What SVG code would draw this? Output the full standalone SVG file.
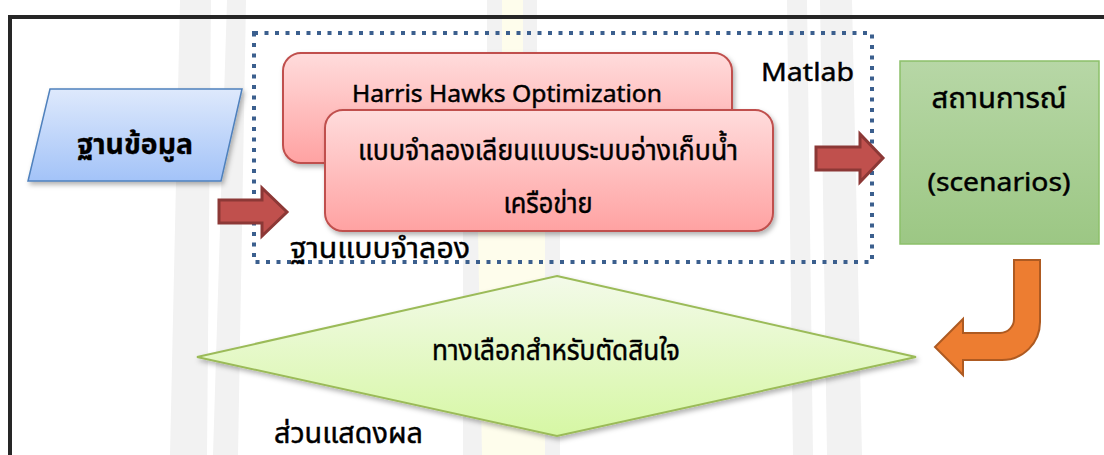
<svg xmlns="http://www.w3.org/2000/svg" width="1104" height="455" viewBox="0 0 1104 455">
<defs>
  <linearGradient id="gBlue" x1="0" y1="0" x2="0" y2="1">
    <stop offset="0" stop-color="#DEE9FC"/>
    <stop offset="1" stop-color="#A3C3F8"/>
  </linearGradient>
  <linearGradient id="gPink" x1="0" y1="0" x2="0" y2="1">
    <stop offset="0" stop-color="#FFDCDC"/>
    <stop offset="1" stop-color="#FFA2A2"/>
  </linearGradient>
  <linearGradient id="gGreen" x1="0" y1="0" x2="0" y2="1">
    <stop offset="0" stop-color="#B7D7A6"/>
    <stop offset="1" stop-color="#9CC784"/>
  </linearGradient>
  <linearGradient id="gLime" x1="0" y1="0" x2="0" y2="1">
    <stop offset="0" stop-color="#F3FAE9"/>
    <stop offset="1" stop-color="#D6F7A4"/>
  </linearGradient>
  <filter id="shadow" x="-10%" y="-10%" width="125%" height="130%">
    <feDropShadow dx="2" dy="3" stdDeviation="2.5" flood-color="#000" flood-opacity="0.3"/>
  </filter>
  <style>
    .t { font-family: "Noto Sans Thai", "Leelawadee UI", Tahoma, "Noto Sans", "DejaVu Sans", sans-serif; fill: #000; stroke: #000; stroke-width: 0.45px; }
    .lat { font-size: 23px; }
    .th { font-size: 29px; }
    .bold { font-weight: bold; stroke-width: 0.3px; }
    .redArrow { fill: #C0504D; stroke: #8C3836; stroke-width: 3; stroke-linejoin: miter; }
    .wmG { fill: #F2F2F2; }
    .wmY { fill: #FEFDEC; }
  </style>
</defs>

<rect x="0" y="0" width="1104" height="455" fill="#FFFFFF"/>

<!-- watermark background -->
<g id="watermark">
  <path class="wmG" d="M180,0 L211,0 L207,455 L170,455 Z"/>
  <path class="wmG" d="M227,0 L246,0 L238,455 L213,455 Z"/>
  <path class="wmG" d="M487,0 L537,0 L537,60 L487,60 Z"/>
  <rect class="wmY" x="502" y="0" width="21" height="60"/>
  <path class="wmG" d="M463,230 L560,230 L560,455 L463,455 Z"/>
  <path class="wmY" d="M478,230 L545,230 L545,455 L482,455 Z"/>
  <path class="wmG" d="M787,0 L807,0 L813,455 L793,455 Z"/>
  <path class="wmG" d="M820,0 L852,0 L862,455 L827,455 Z"/>
</g>

<!-- outer frame -->
<rect id="frame" x="10" y="17" width="1150" height="500" fill="none" stroke="#262626" stroke-width="4"/>

<!-- dotted model-base container -->
<g id="modelBase">
  <rect x="254" y="33" width="618" height="229" fill="none" stroke="#3B5F8E" stroke-width="4" stroke-dasharray="4 6.5"/>
  <text class="t th" x="290" y="258" textLength="180" lengthAdjust="spacingAndGlyphs">ฐานแบบจำลอง</text>
  <text class="t" x="761" y="81" font-size="26" textLength="93" lengthAdjust="spacingAndGlyphs">Matlab</text>
</g>

<g id="database">
  <polygon points="50,89 242,89 221,181 28,181" fill="url(#gBlue)" stroke="#4F81BD" stroke-width="1.5" filter="url(#shadow)"/>
  <text class="t bold" x="135" y="154" font-size="28" text-anchor="middle" textLength="116" lengthAdjust="spacingAndGlyphs">ฐานข้อมูล</text>
</g>

<g id="hho">
  <rect x="283" y="53" width="449" height="110" rx="18" fill="url(#gPink)" stroke="#C0504D" stroke-width="2" filter="url(#shadow)"/>
  <text class="t lat" x="507" y="102" text-anchor="middle" textLength="310" lengthAdjust="spacingAndGlyphs">Harris Hawks Optimization</text>
</g>

<g id="simModel">
  <rect x="325" y="110" width="448" height="121" rx="18" fill="url(#gPink)" stroke="#C0504D" stroke-width="2" filter="url(#shadow)"/>
  <text class="t th" x="548" y="160" text-anchor="middle" textLength="380" lengthAdjust="spacingAndGlyphs">แบบจำลองเลียนแบบระบบอ่างเก็บน้ำ</text>
  <text class="t th" x="548" y="213" text-anchor="middle" textLength="89" lengthAdjust="spacingAndGlyphs">เครือข่าย</text>
</g>

<g id="scenarios">
  <rect x="900" y="61" width="199" height="183" fill="url(#gGreen)" stroke="#8CC06A" stroke-width="1.5"/>
  <text class="t th" x="999" y="108" text-anchor="middle" textLength="135" lengthAdjust="spacingAndGlyphs">สถานการณ์</text>
  <text class="t" x="999" y="191" font-size="26" text-anchor="middle" textLength="143" lengthAdjust="spacingAndGlyphs">(scenarios)</text>
</g>

<g id="decision">
  <polygon points="557,276 916,357 557,436 197,357" fill="url(#gLime)" stroke="#9BBB59" stroke-width="2" filter="url(#shadow)"/>
  <text class="t" x="556" y="360" font-size="28" text-anchor="middle" textLength="248" lengthAdjust="spacingAndGlyphs">ทางเลือกสำหรับตัดสินใจ</text>
</g>

<g id="output">
  <text class="t th" x="274" y="443" textLength="149" lengthAdjust="spacingAndGlyphs">ส่วนแสดงผล</text>
</g>

<g id="connectors">
  <path class="redArrow" d="M219,200 L262,200 L262,188 L287,212 L262,236 L262,223 L219,223 Z"/>
  <path class="redArrow" d="M816,147 L860,147 L860,134 L883,158 L860,182 L860,170 L816,170 Z"/>
  <path d="M1014,260 L1040,260 L1040,322 A38,38 0 0 1 1002,360 L963,360 L963,375 L935,347 L963,319 L963,333 L1000,333 A14,14 0 0 0 1014,319 Z" fill="#ED7D31" stroke="#AE5A21" stroke-width="2"/>
</g>
</svg>
